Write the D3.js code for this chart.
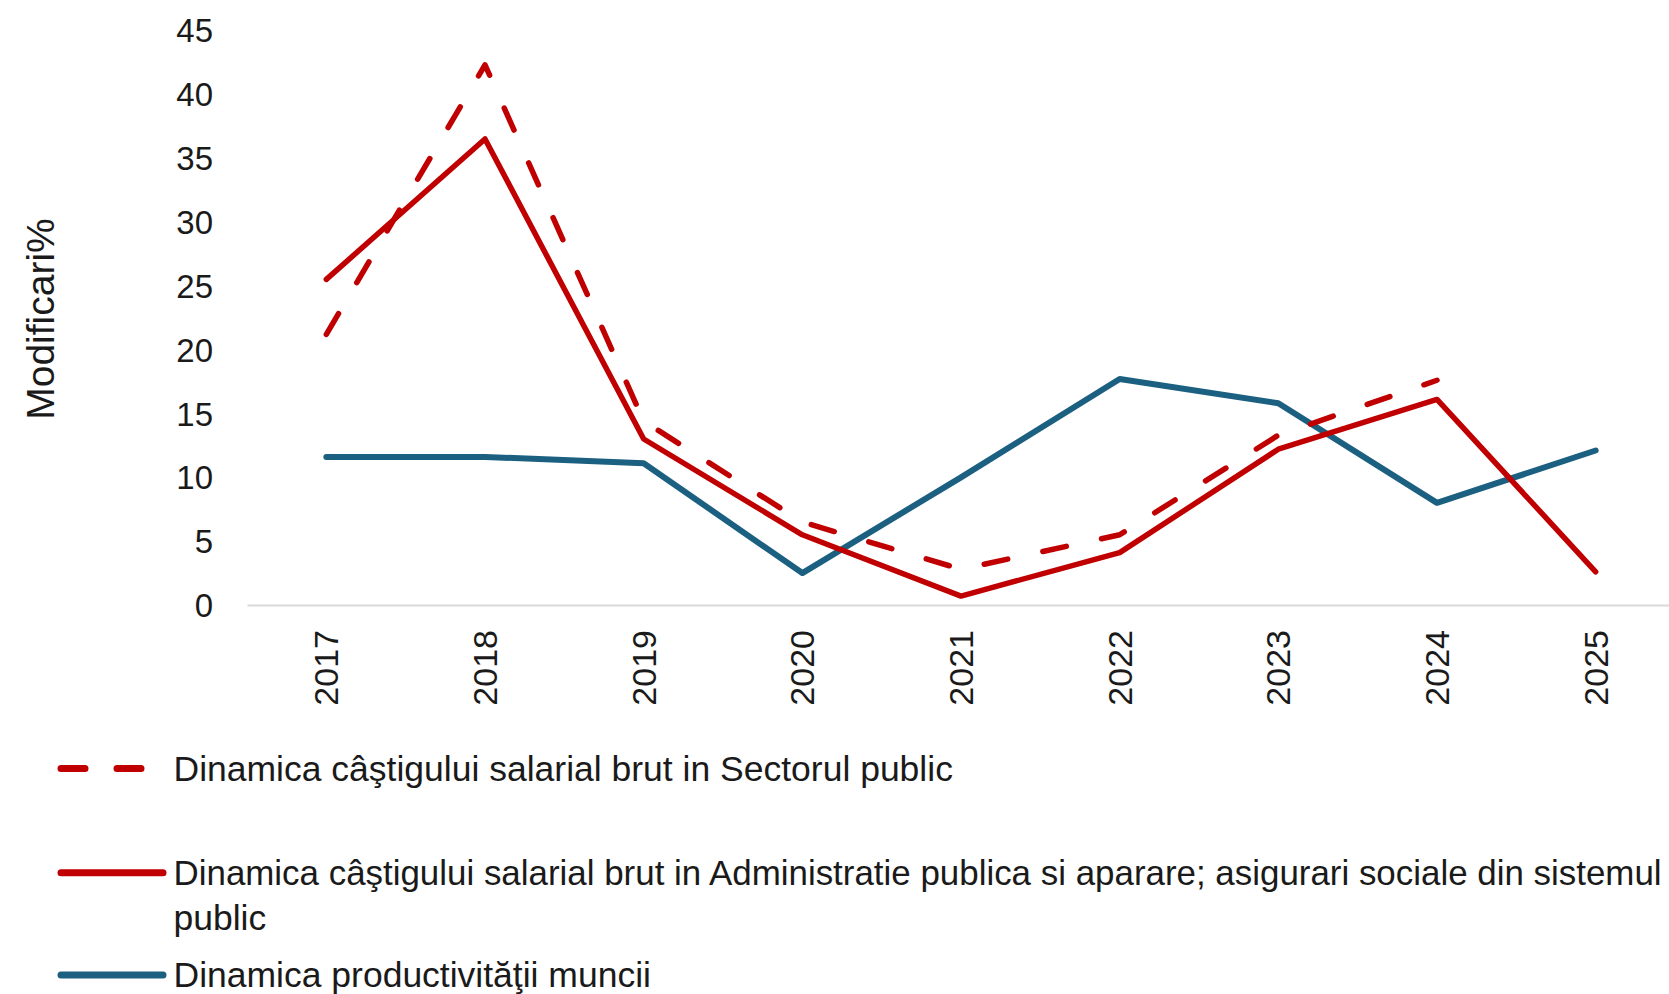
<!DOCTYPE html>
<html>
<head>
<meta charset="utf-8">
<script src="https://cdn.jsdelivr.net/npm/d3@7"></script>
<style>
  html, body { margin: 0; padding: 0; background: #fff; }
  svg { display: block; }
</style>
</head>
<body>
<svg id="chart" width="1669" height="994"></svg>
<script>
const years = ["2017", "2018", "2019", "2020", "2021", "2022", "2023", "2024", "2025"];
const sectorPublic = [21.2, 42.3, 14.4, 6.5, 2.8, 5.5, 13.3, 17.6, null];
const adminPublica = [25.5, 36.5, 13.0, 5.5, 0.7, 4.1, 12.2, 16.1, 2.6];
const productivitate = [11.6, 11.6, 11.1, 2.5, 10.0, 17.7, 15.8, 8.0, 12.1];
const yTicks = [0, 5, 10, 15, 20, 25, 30, 35, 40, 45];
const yTitle = "Modificari%";
const legendLabels = [
  "Dinamica câştigului salarial brut in Sectorul public",
  "Dinamica câştigului salarial brut in Administratie publica si aparare; asigurari sociale din sistemul",
  "public",
  "Dinamica productivităţii muncii"
];

const RED = "#c00000", BLUE = "#1c6081";
const FONT = "'Liberation Sans', Arial, sans-serif";
const svg = d3.select("#chart");

const x = d3.scaleBand().domain(years).range([247, 1675]).padding(0);
const cx = d => x(d) + x.bandwidth() / 2;
const y = d3.scaleLinear().domain([0, 45]).range([605, 30.4]);

// y axis (labels only)
const yAxis = d3.axisLeft(y).tickValues(yTicks).tickSize(0).tickPadding(0);
const gy = svg.append("g").attr("transform", "translate(213,0)").call(yAxis);
gy.select(".domain").remove();
gy.selectAll("text").attr("font-family", FONT).attr("font-size", 33).attr("fill", "#1a1a1a")
  .attr("text-anchor", "end").attr("dy", "0.35em");

// x axis
const xAxis = d3.axisBottom(x).tickSize(0).tickPadding(0);
const gx = svg.append("g").attr("transform", "translate(0,605)").call(xAxis);
gx.select(".domain").attr("stroke", "#d9d9d9").attr("stroke-width", 2);
gx.selectAll("text").attr("font-family", FONT).attr("font-size", 34).attr("fill", "#1a1a1a")
  .attr("text-anchor", "end").attr("transform", "rotate(-90)")
  .attr("x", -25).attr("y", 0).attr("dy", "0.35em");

// y title
svg.append("text").attr("transform", "translate(40,319) rotate(-90)")
  .attr("text-anchor", "middle").attr("dy", "0.35em")
  .attr("font-family", FONT).attr("font-size", 39).attr("fill", "#1a1a1a").text(yTitle);

const line = d3.line().defined(d => d[1] != null).x(d => cx(d[0])).y(d => y(d[1]));
const mk = arr => years.map((yr, i) => [yr, arr[i]]);

svg.append("path").datum(mk(productivitate)).attr("d", line)
  .attr("fill", "none").attr("stroke", BLUE).attr("stroke-width", 6)
  .attr("stroke-linejoin", "round").attr("stroke-linecap", "round");
svg.append("path").datum(mk(adminPublica)).attr("d", line)
  .attr("fill", "none").attr("stroke", RED).attr("stroke-width", 5.5)
  .attr("stroke-linejoin", "round").attr("stroke-linecap", "round");
svg.append("path").datum(mk(sectorPublic)).attr("d", line)
  .attr("fill", "none").attr("stroke", RED).attr("stroke-width", 5.5)
  .attr("stroke-dasharray", "24,36").attr("stroke-linejoin", "round").attr("stroke-linecap", "round");

// legend
const lg = svg.append("g");
const legText = (txt, yy) => lg.append("text").attr("x", 173.5).attr("y", yy).attr("dy", "0.35em")
  .attr("font-family", FONT).attr("font-size", 35.5).attr("fill", "#1a1a1a").text(txt);

lg.append("line").attr("x1", 61).attr("x2", 148).attr("y1", 768.5).attr("y2", 768.5)
  .attr("stroke", RED).attr("stroke-width", 7).attr("stroke-linecap", "round").attr("stroke-dasharray", "24,32");
legText(legendLabels[0], 768.5);

lg.append("line").attr("x1", 61).attr("x2", 163).attr("y1", 872.8).attr("y2", 872.8)
  .attr("stroke", RED).attr("stroke-width", 7).attr("stroke-linecap", "round");
const t2 = legText(legendLabels[1], 872.8);
const natural = t2.node().getComputedTextLength();
const avail = 1662 - 173.5;
if (natural > avail) t2.attr("font-size", 35.5 * avail / natural);
legText(legendLabels[2], 917.5);

lg.append("line").attr("x1", 61).attr("x2", 163).attr("y1", 975).attr("y2", 975)
  .attr("stroke", BLUE).attr("stroke-width", 7).attr("stroke-linecap", "round");
legText(legendLabels[3], 975);
</script>
</body>
</html>
